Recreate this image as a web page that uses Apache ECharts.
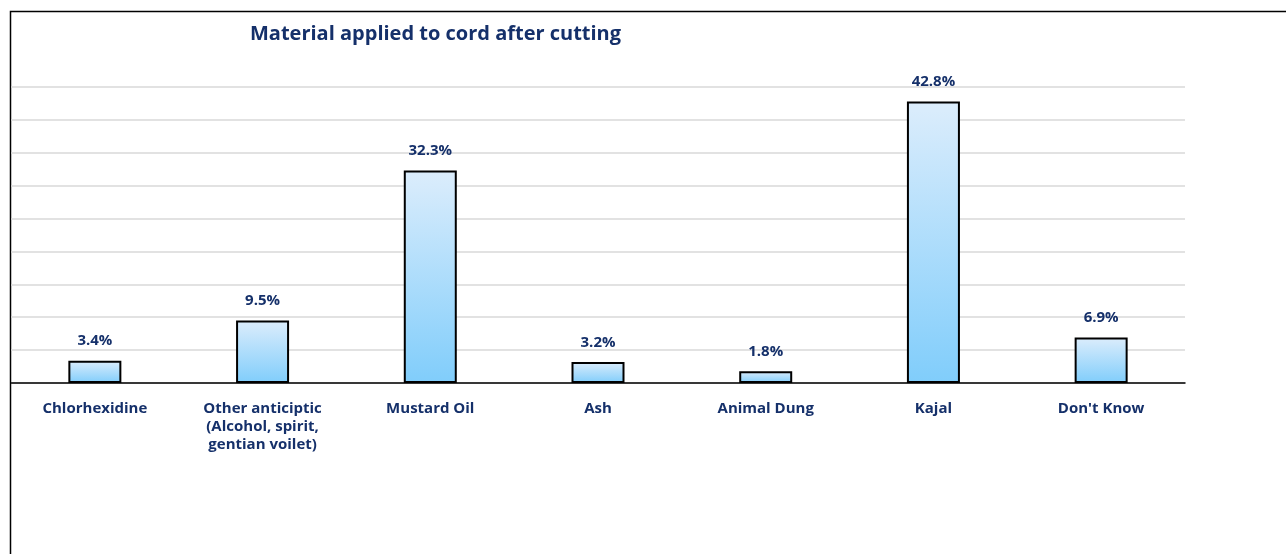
<!DOCTYPE html>
<html><head><meta charset="utf-8">
<script src="https://cdn.jsdelivr.net/npm/echarts@6/dist/echarts.min.js"></script>
<style>html,body{margin:0;padding:0;background:#fff}#c{width:1286px;height:554px}</style>
</head><body><div id="c"></div>
<script>
const categories = ['Chlorhexidine', 'Other anticiptic\n(Alcohol, spirit,\ngentian voilet)', 'Mustard Oil', 'Ash', 'Animal Dung', 'Kajal', "Don't Know"];
const values = [3.4, 9.5, 32.3, 3.2, 1.8, 42.8, 6.9];
const titleText = 'Material applied to cord after cutting';
const navy = '#15306a';
const font = 'Open Sans';
const chart = echarts.init(document.getElementById('c'));
chart.setOption({
  animation: false,
  title: { text: titleText, left: 245, top: 19, textStyle: { fontFamily: font, fontWeight: 'bold', fontSize: 20, color: navy } },
  graphic: [{ type: 'rect', shape: { x: 10.5, y: 11.5, width: 1400, height: 700 }, style: { fill: 'none', stroke: '#000', lineWidth: 1.5 }, silent: true }],
  grid: { left: 11, right: 101, top: 87, bottom: 171, containLabel: false },
  xAxis: {
    type: 'category', data: categories,
    axisLine: { lineStyle: { color: '#000', width: 1.5 } },
    axisTick: { show: false },
    axisLabel: { interval: 0, margin: 17, fontFamily: font, fontWeight: 'bold', fontSize: 15, color: navy, lineHeight: 18 }
  },
  yAxis: {
    type: 'value', min: 0, max: 45, interval: 5,
    axisLine: { show: false }, axisTick: { show: false }, axisLabel: { show: false },
    splitLine: { lineStyle: { color: '#d9d9d9', width: 1.5 } }
  },
  series: [{
    type: 'bar', data: values, barWidth: 53,
    itemStyle: {
      color: new echarts.graphic.LinearGradient(0, 0, 0, 1, [{ offset: 0, color: '#dcedfc' }, { offset: 1, color: '#80cdfb' }]),
      borderColor: '#000', borderWidth: 2
    },
    label: { show: true, position: 'top', distance: 12, formatter: p => p.value.toFixed(1) + '%', fontFamily: font, fontWeight: 'bold', fontSize: 15, color: navy }
  }]
});
</script></body></html>
